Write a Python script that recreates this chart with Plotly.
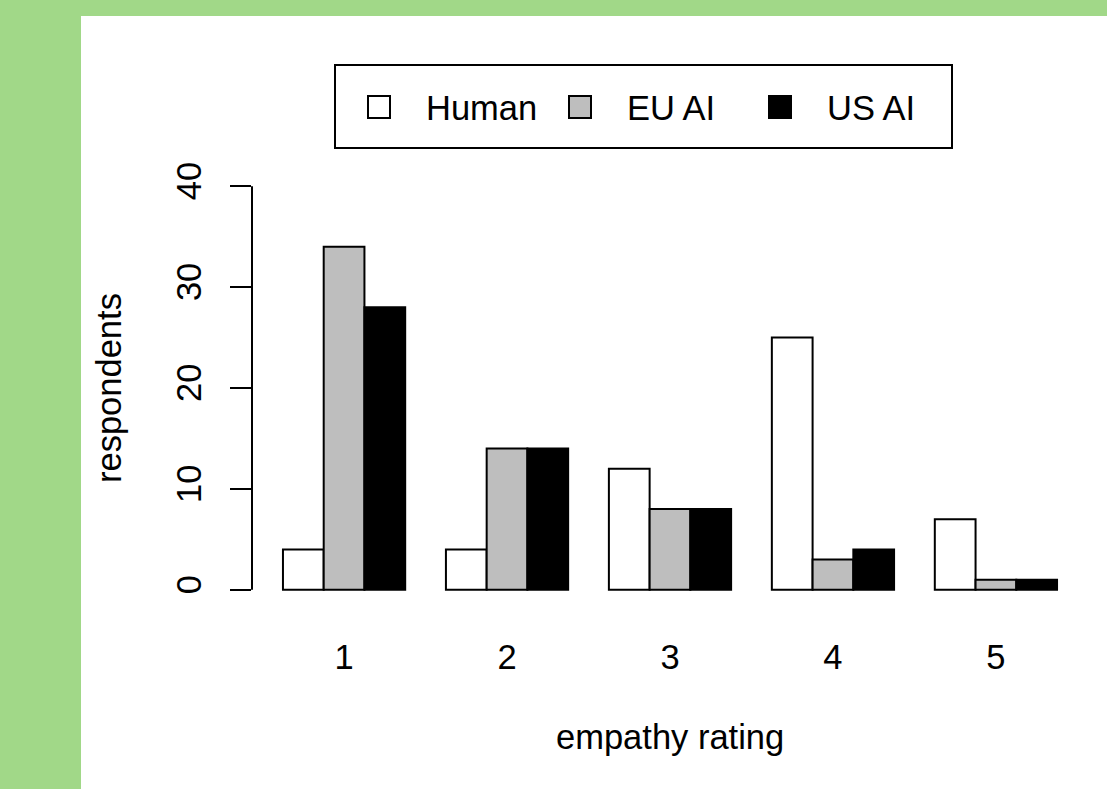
import plotly.graph_objects as go

# Empathy ratings given by respondents for each response source
ratings = ["1", "2", "3", "4", "5"]
series_names = ["Human", "EU AI", "US AI"]
human = [4, 4, 12, 25, 7]
eu_ai = [34, 14, 8, 3, 1]
us_ai = [28, 14, 8, 4, 1]
series_values = [human, eu_ai, us_ai]
series_colors = ["#ffffff", "#bebebe", "#000000"]
y_ticks = [0, 10, 20, 30, 40]

W, H = 1107, 789
L, R, T, B = 252, 19, 170, 183
PW, PH = W - L - R, H - T - B
FONT = "Liberation Sans, Arial, sans-serif"
FS = 34.5


def px(x):
    return (x - L) / PW


def py(y):
    return (H - B - y) / PH


fig = go.Figure()
for name, vals, col in zip(series_names, series_values, series_colors):
    fig.add_trace(go.Bar(
        x=ratings, y=vals, name=name,
        marker=dict(color=col, line=dict(color="black", width=2)),
        showlegend=False,
    ))

shapes = [
    # white drawing surface over the green page
    dict(type="rect", xref="paper", yref="paper",
         x0=px(81), x1=px(W + 5), y0=py(H + 5), y1=py(16),
         fillcolor="white", line=dict(width=0), layer="below"),
    # y axis line spanning the tick range only
    dict(type="line", xref="paper", yref="y",
         x0=0, x1=0, y0=y_ticks[0], y1=y_ticks[-1],
         line=dict(color="black", width=2)),
    # legend frame
    dict(type="rect", xref="paper", yref="paper",
         x0=px(335), x1=px(952), y0=py(148), y1=py(65),
         fillcolor="white", line=dict(color="black", width=2)),
]

annotations = [
    dict(text="empathy rating", xref="paper", yref="paper",
         x=0.5, y=py(737), xanchor="center", yanchor="middle",
         showarrow=False, font=dict(family=FONT, size=FS, color="black")),
    dict(text="respondents", xref="paper", yref="paper",
         x=px(109), y=0.5, xanchor="center", yanchor="middle", textangle=-90,
         showarrow=False, font=dict(family=FONT, size=FS, color="black")),
]

# legend entries: swatch + label
sw_x = [379, 580, 780]
tx_x = [424, 625, 825]
ly = 107
half = 11
for name, col, sx, tx in zip(series_names, series_colors, sw_x, tx_x):
    shapes.append(dict(type="rect", xref="paper", yref="paper",
                       x0=px(sx - half), x1=px(sx + half),
                       y0=py(ly + half), y1=py(ly - half),
                       fillcolor=col, line=dict(color="black", width=2)))
    annotations.append(dict(text=name, xref="paper", yref="paper",
                            x=px(tx), y=py(ly + 1), xanchor="left", yanchor="middle",
                            showarrow=False,
                            font=dict(family=FONT, size=FS, color="black")))

fig.update_layout(
    width=W, height=H,
    margin=dict(l=L, r=R, t=T, b=B, pad=0),
    paper_bgcolor="#a1d888",
    plot_bgcolor="rgba(0,0,0,0)",
    barmode="group", bargap=0.25, bargroupgap=0,
    font=dict(family=FONT, size=FS, color="black"),
    shapes=shapes, annotations=annotations,
    xaxis=dict(type="category", range=[-0.565, 4.565],
               showgrid=False, zeroline=False, showline=False,
               ticks="outside", ticklen=0, tickcolor="rgba(0,0,0,0)",
               ticklabelstandoff=21,
               tickfont=dict(family=FONT, size=FS, color="black")),
    yaxis=dict(range=[-1.6, 41.6], tickvals=y_ticks,
               showgrid=False, zeroline=False, showline=False,
               ticks="outside", ticklen=21, tickwidth=2, tickcolor="black",
               tickangle=-90, ticklabelstandoff=15,
               tickfont=dict(family=FONT, size=FS, color="black")),
)

fig.write_html("out.html")
